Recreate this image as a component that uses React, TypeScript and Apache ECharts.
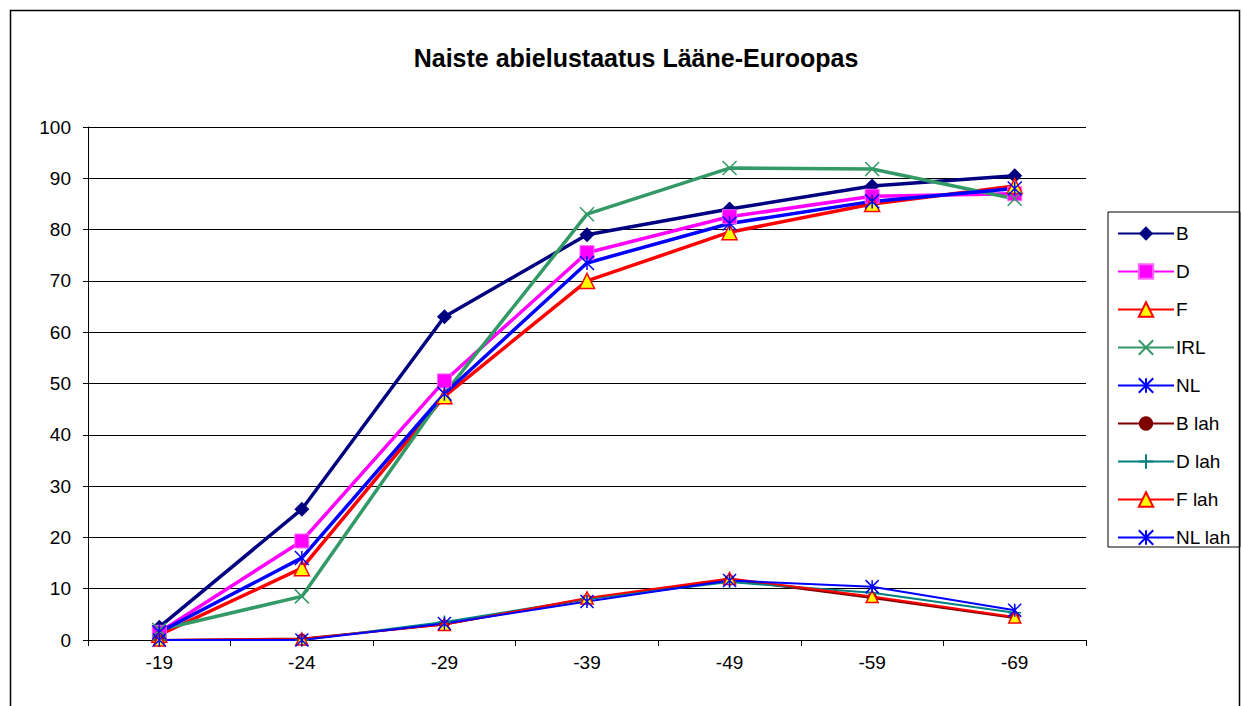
import React, { useEffect, useRef } from "react";
import * as echarts from "echarts";

const categories = ["-19", "-24", "-29", "-39", "-49", "-59", "-69"];
const seriesNames = ["B", "D", "F", "IRL", "NL", "B lah", "D lah", "F lah", "NL lah"];
const B = [2.5, 25.5, 63, 79, 84, 88.5, 90.5];
const D = [1.5, 19.3, 50.5, 75.5, 82.5, 86.5, 87];
const F = [1, 14, 47.5, 70, 79.5, 85, 88.5];
const IRL = [2, 8.5, 48, 83, 92, 91.8, 86];
const NL = [1.5, 16, 48, 73.5, 81.2, 85.5, 88];
const B_lah = [0, 0.3, 3, 8, 11.8, 8.2, 4.3];
const D_lah = [0, 0, 3.5, 8, 11.3, 9.2, 5.3];
const F_lah = [0, 0.2, 3, 8.2, 12, 8.5, 4.5];
const NL_lah = [0, 0, 3.2, 7.5, 11.6, 10.4, 5.8];
const yTicks = { min: 0, max: 100, interval: 10 };

const X_PATH = "path://M0,0L10,10M10,0L0,10";
const AST_PATH = "path://M5,0L5,10M0,0L10,10M10,0L0,10";
const PLUS_PATH = "path://M5,0L5,10M0,5L10,5";
const FONT = "Arial, 'Liberation Sans', sans-serif";

export default function App() {
  const ref = useRef<HTMLDivElement>(null);
  useEffect(() => {
    document.body.style.margin = "0";
    const chart = echarts.init(ref.current!, undefined, { renderer: "svg" });
    const mk = (
      name: string,
      data: number[],
      lineColor: string,
      width: number,
      symbol: string,
      size: number,
      fill: string,
      border: string,
      borderWidth: number
    ) => ({
      name,
      type: "line",
      data,
      symbol,
      symbolSize: size,
      showAllSymbol: true,
      lineStyle: { color: lineColor, width },
      itemStyle: { color: fill, borderColor: border, borderWidth },
      emphasis: { disabled: true },
    });
    chart.setOption({
      animation: false,
      backgroundColor: "#ffffff",
      textStyle: { fontFamily: FONT },
      title: {
        text: "Naiste abielustaatus Lääne-Euroopas",
        left: 631,
        textAlign: "center",
        top: 40,
        textStyle: { fontSize: 25, fontWeight: "bold", color: "#000", fontFamily: FONT },
      },
      graphic: [
        {
          type: "rect",
          shape: { x: 10.5, y: 10.5, width: 1229, height: 700 },
          style: { fill: "none", stroke: "#000", lineWidth: 1.5 },
          silent: true,
          z: -1,
        },
      ],
      legend: {
        orient: "vertical",
        left: 1108,
        top: 212,
        data: seriesNames,
        itemWidth: 56,
        itemHeight: 18,
        itemGap: 19,
        padding: [12, 9, 0, 9],
        borderColor: "#000",
        borderWidth: 1,
        textStyle: { fontSize: 19, color: "#000", lineHeight: 18, padding: [0, 0, 0, -3], fontFamily: FONT },
      },
      grid: { left: 88, right: 156, top: 127, bottom: 66, containLabel: false },
      xAxis: {
        type: "category",
        data: categories,
        boundaryGap: true,
        axisLine: { lineStyle: { color: "#000", width: 1 } },
        axisTick: { show: true, length: 6, lineStyle: { color: "#000" } },
        axisLabel: { color: "#000", fontSize: 19, margin: 13 },
      },
      yAxis: {
        type: "value",
        min: yTicks.min,
        max: yTicks.max,
        interval: yTicks.interval,
        axisLine: { show: true, lineStyle: { color: "#000", width: 1 } },
        axisTick: { show: true, length: 5, lineStyle: { color: "#000" } },
        axisLabel: { color: "#000", fontSize: 19, margin: 17 },
        splitLine: { show: true, lineStyle: { color: "#000", width: 1 } },
      },
      series: [
        mk("B", B, "#000080", 3.5, "diamond", 15, "#000080", "#000080", 0),
        mk("D", D, "#FF00FF", 3.5, "rect", 14, "#FF00FF", "#FF66FF", 1),
        mk("F", F, "#FF0000", 3.5, "triangle", 15, "#FFFF00", "#FF0000", 1.5),
        mk("IRL", IRL, "#339966", 3.5, X_PATH, 14, "#339966", "#339966", 1.5),
        mk("NL", NL, "#0000FF", 3.5, AST_PATH, 14, "#0000FF", "#0000FF", 1.5),
        mk("B lah", B_lah, "#800000", 2, "circle", 10, "#800000", "#800000", 0),
        mk("D lah", D_lah, "#008080", 2, PLUS_PATH, 13, "#008080", "#008080", 1.5),
        mk("F lah", F_lah, "#FF0000", 2, "triangle", 12, "#FFFF00", "#FF0000", 1.5),
        mk("NL lah", NL_lah, "#0000FF", 2, AST_PATH, 13, "#0000FF", "#0000FF", 1.5),
      ],
    });
    return () => chart.dispose();
  }, []);
  return <div ref={ref} style={{ width: 1242, height: 706 }} />;
}
